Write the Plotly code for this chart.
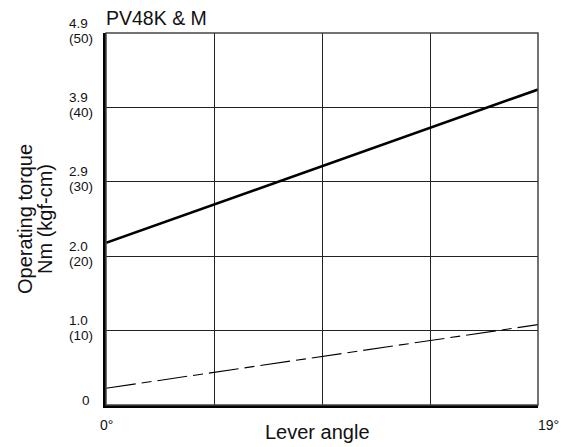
import plotly.graph_objects as go

# Data
angle = [0, 19]
solid_torque = [21.8, 42.4]     # kgf-cm
dashed_torque = [2.25, 10.8]    # kgf-cm

y_ticks = [0, 10, 20, 30, 40, 50]
nm_labels = ["0", "1.0", "2.0", "2.9", "3.9", "4.9"]
kgf_labels = ["", "(10)", "(20)", "(30)", "(40)", "(50)"]
x_ticks = [0, 19]
x_labels = ["0°", "19°"]

FONT = "Liberation Sans, Arial, Helvetica, sans-serif"
TF = 13.5

fig = go.Figure()
fig.add_trace(go.Scatter(x=angle, y=solid_torque, mode="lines",
                         line=dict(color="black", width=2.6), showlegend=False, hoverinfo="skip"))
fig.add_trace(go.Scatter(x=angle, y=dashed_torque, mode="lines",
                         line=dict(color="black", width=1.1, dash="30px,6px,10px,6px"),
                         showlegend=False, hoverinfo="skip"))

ann = []
for v, nm, kg in zip(y_ticks, nm_labels, kgf_labels):
    if kg:
        ann.append(dict(x=0, xref="paper", y=v, yref="y", text=nm, showarrow=False,
                        xanchor="left", yanchor="middle", xshift=-39, yshift=10,
                        font=dict(size=TF, color="#111", family=FONT)))
        ann.append(dict(x=0, xref="paper", y=v, yref="y", text=kg, showarrow=False,
                        xanchor="left", yanchor="middle", xshift=-39, yshift=-5,
                        font=dict(size=TF, color="#111", family=FONT)))
    else:
        ann.append(dict(x=0, xref="paper", y=v, yref="y", text=nm, showarrow=False,
                        xanchor="right", yanchor="middle", xshift=-14, yshift=5,
                        font=dict(size=TF, color="#111", family=FONT)))

for i, (v, t) in enumerate(zip(x_ticks, x_labels)):
    ann.append(dict(x=v, xref="x", y=0, yref="paper", text=t, showarrow=False,
                    xanchor="center" if i == 0 else "left", xshift=0 if i == 0 else -2,
                    yanchor="middle", yshift=-20,
                    font=dict(size=14, color="#111", family=FONT)))

ann.append(dict(x=0.5, xref="paper", y=0, yref="paper", text="Lever angle", showarrow=False,
                xanchor="center", yanchor="middle", xshift=-5, yshift=-27,
                font=dict(size=20, color="#111", family=FONT)))
ann.append(dict(x=0, xref="paper", y=1, yref="paper", text="PV48K & M", showarrow=False,
                xanchor="left", yanchor="middle", xshift=-2, yshift=15,
                font=dict(size=19.5, color="#111", family=FONT)))
ann.append(dict(x=0, xref="paper", y=0.5, yref="paper", text="Operating torque", showarrow=False,
                xanchor="center", yanchor="middle", xshift=-81, textangle=-90,
                font=dict(size=20, color="#111", family=FONT)))
ann.append(dict(x=0, xref="paper", y=0.5, yref="paper", text="Nm (kgf-cm)", showarrow=False,
                xanchor="center", yanchor="middle", xshift=-61, textangle=-90,
                font=dict(size=20, color="#111", family=FONT)))

fig.update_layout(
    width=570, height=447,
    margin=dict(l=106, r=31.5, t=33, b=42),
    paper_bgcolor="white", plot_bgcolor="white",
    annotations=ann,
    shapes=[dict(type="rect", xref="paper", yref="paper", x0=0, x1=1, y0=0, y1=1,
                 line=dict(color="#444", width=1.5))],
)
fig.update_xaxes(range=[0, 19], dtick=4.75, tick0=0, showgrid=True, gridcolor="#222", gridwidth=1.2,
                 showticklabels=False, ticks="", zeroline=False,
                 showline=True, linecolor="black", linewidth=3)
fig.update_yaxes(range=[0, 50], dtick=10, tick0=0, showgrid=True, gridcolor="#222", gridwidth=1.2,
                 showticklabels=False, ticks="", zeroline=False,
                 showline=True, linecolor="black", linewidth=3)

fig.write_html("out.html")
